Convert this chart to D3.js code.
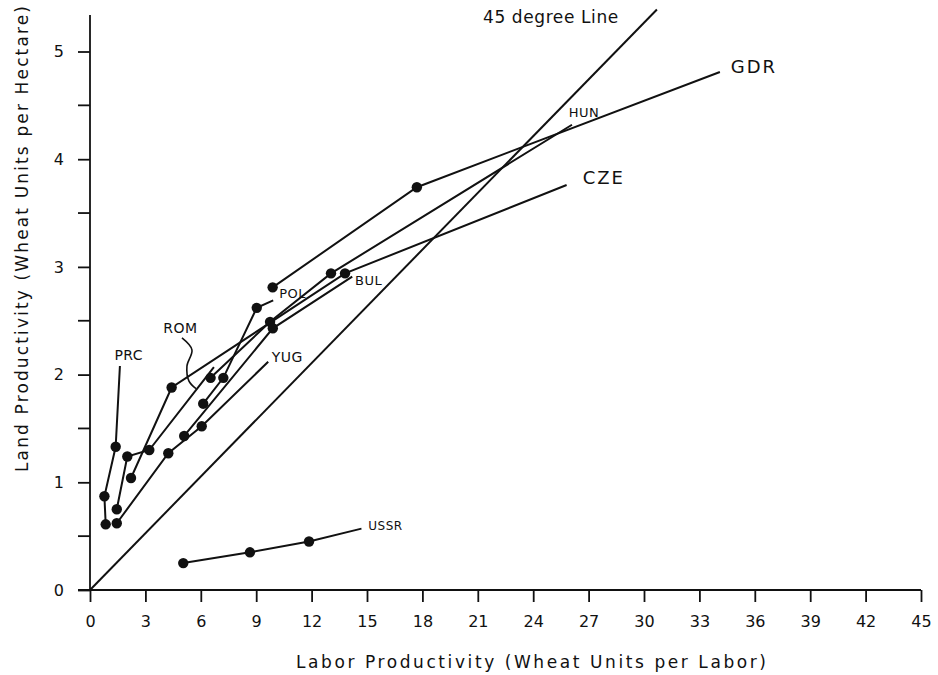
<!DOCTYPE html>
<html>
<head>
<meta charset="utf-8">
<script src="https://cdn.jsdelivr.net/npm/d3@7"></script>
<style>
body { margin: 0; background: #fff; }
text { font-family: "DejaVu Sans", sans-serif; fill: #111; }
</style>
</head>
<body>
<svg id="chart"></svg>
<script>
//data, [labor productivity, land productivity]
//last point of each path is the end of the label line (no dot)
var xTicks = [0, 3, 6, 9, 12, 15, 18, 21, 24, 27, 30, 33, 36, 39, 42, 45]
var yTicks = [0, 1, 2, 3, 4, 5]
var yMinor = [0.5, 1.5, 2.5, 3.5, 4.5]

var PRC  = [[0.85, 0.61], [0.78, 0.87], [1.39, 1.33], [1.62, 2.08]]
var ROM  = [[1.45, 0.75], [2.02, 1.24], [3.21, 1.30], [6.71, 2.07]]
var POL  = [[6.13, 1.73], [7.22, 1.97], [9.03, 2.62], [9.92, 2.69]]
var CZE  = [[2.22, 1.04], [4.42, 1.88], [13.81, 2.94], [25.81, 3.76]]
var GDR  = [[9.89, 2.81], [17.70, 3.74], [34.11, 4.81]]
var HUN  = [[6.53, 1.97], [9.75, 2.49], [13.05, 2.94], [26.10, 4.32]]
var BUL  = [[5.10, 1.43], [9.90, 2.43], [14.20, 2.91]]
var YUG  = [[1.45, 0.62], [4.24, 1.27], [6.05, 1.52], [9.65, 2.12]]
var USSR = [[5.05, 0.25], [8.66, 0.35], [11.86, 0.45], [14.70, 0.57]]
var line45 = [[0, 0], [30.7, 5.39]]

var width = 938
var height = 675
var svg = d3.select("#chart")
	.attr("width", width)
	.attr("height", height)

var x = d3.scaleLinear().domain([0, 45]).range([90, 921])
var y = d3.scaleLinear().domain([0, 5]).range([590, 51.5])

//axes
var xAxis = d3.axisBottom(x).tickValues(xTicks).tickSize(12).tickPadding(14).tickSizeOuter(0)
var gx = svg.append("g").attr("transform", "translate(0," + y(0) + ")").call(xAxis)
gx.select(".domain").attr("d", "M" + (x(0) - 12) + ",0H" + x(45))
gx.selectAll("text").style("font-size", "16px")

var yAxis = d3.axisLeft(y).tickValues(yTicks).tickFormat(d3.format("d")).tickSize(12).tickPadding(14).tickSizeOuter(0)
var gy = svg.append("g").attr("transform", "translate(" + x(0) + ",0)").call(yAxis)
gy.select(".domain").attr("d", "M0," + y(0) + "V" + y(5.34))
gy.selectAll("text").style("font-size", "16px")
gy.selectAll(".minor").data(yMinor).enter().append("line")
	.attr("class", "minor")
	.attr("x1", -12).attr("x2", 0)
	.attr("y1", d => y(d)).attr("y2", d => y(d))
svg.selectAll(".domain, .tick line, .minor").attr("stroke", "#111").attr("stroke-width", 1.8)

svg.append("text")
	.attr("x", 296).attr("y", 668)
	.attr("textLength", 470)
	.style("font-size", "17px")
	.text("Labor Productivity (Wheat Units per Labor)")

svg.append("text")
	.attr("transform", "translate(28,472) rotate(-90)")
	.attr("textLength", 466)
	.style("font-size", "17px")
	.text("Land Productivity (Wheat Units per Hectare)")

//paths
var line = d3.line().x(d => x(d[0])).y(d => y(d[1]))
var series = [PRC, ROM, POL, CZE, GDR, HUN, BUL, YUG, USSR]

svg.append("path").attr("d", line(line45))
	.attr("fill", "none").attr("stroke", "#111").attr("stroke-width", 2)

svg.append("g").selectAll("path")
	.data(series)
	.enter()
	.append("path")
	.attr("d", d => line(d))
	.attr("fill", "none")
	.attr("stroke", "#111")
	.attr("stroke-width", 2)

//dots on every point except the label end
svg.append("g").selectAll("circle")
	.data(series.flatMap(s => s.slice(0, -1)))
	.enter()
	.append("circle")
	.attr("cx", d => x(d[0]))
	.attr("cy", d => y(d[1]))
	.attr("r", 5.2)
	.attr("fill", "#111")

//ROM curly pointer
var romLeader = [[4.98, 2.34], [5.52, 2.23], [5.25, 2.08], [5.36, 1.94], [5.74, 1.87]]
svg.append("path")
	.attr("d", d3.line().curve(d3.curveCatmullRom).x(d => x(d[0])).y(d => y(d[1]))(romLeader))
	.attr("fill", "none").attr("stroke", "#111").attr("stroke-width", 1.6)

//labels
var labels = [
	{t: "45 degree Line", x: 21.28, y: 5.26, s: 17, ls: 0.6},
	{t: "GDR", x: 34.7, y: 4.80, s: 18, ls: 2},
	{t: "HUN", x: 25.93, y: 4.39, s: 13, ls: 0.5},
	{t: "CZE", x: 26.68, y: 3.77, s: 18, ls: 2},
	{t: "BUL", x: 14.35, y: 2.83, s: 13, ls: 0.5},
	{t: "POL", x: 10.25, y: 2.71, s: 13, ls: 0.5},
	{t: "ROM", x: 3.97, y: 2.39, s: 14, ls: 0.5},
	{t: "YUG", x: 9.84, y: 2.12, s: 14, ls: 0.5},
	{t: "PRC", x: 1.32, y: 2.14, s: 14, ls: 0.5},
	{t: "USSR", x: 15.07, y: 0.56, s: 12, ls: 0.5}
]
svg.append("g").selectAll("text")
	.data(labels)
	.enter()
	.append("text")
	.attr("x", d => x(d.x))
	.attr("y", d => y(d.y))
	.style("font-size", d => d.s + "px")
	.style("letter-spacing", d => d.ls + "px")
	.text(d => d.t)
</script>
</body>
</html>
